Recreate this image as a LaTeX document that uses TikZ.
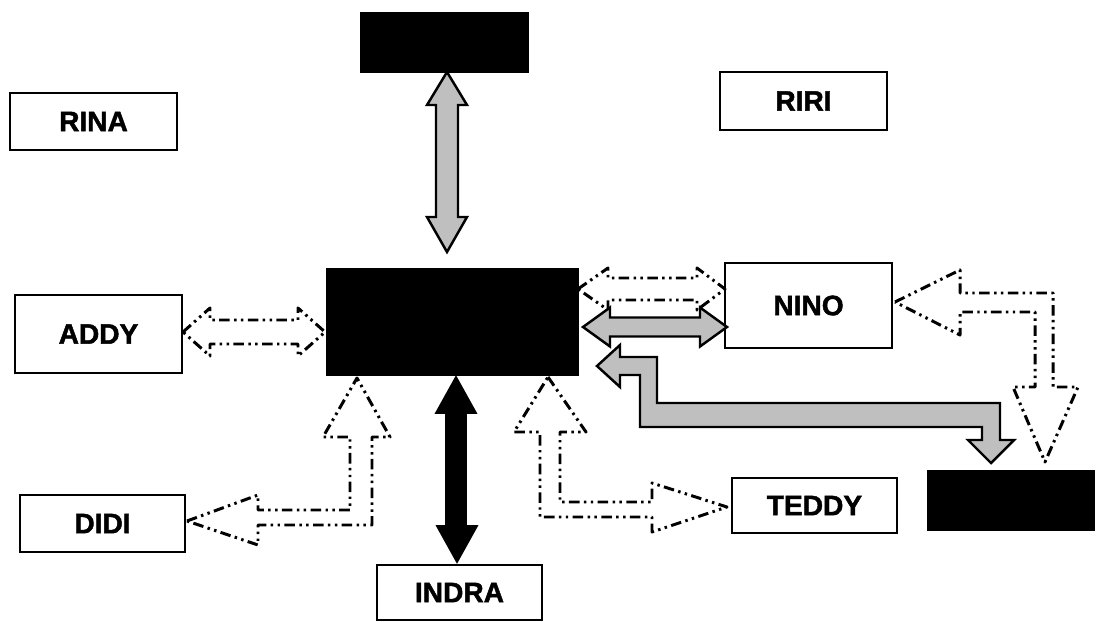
\documentclass[tikz,border=0pt]{standalone}
\usepackage{fontspec}
\setmainfont{Liberation Sans}[BoldFeatures={FakeBold=1.6}]
\begin{document}
\begin{tikzpicture}[x=0.02cm,y=-0.02cm,
  box/.style={draw=black,line width=0.9pt,fill=white,rectangle,inner sep=0pt,
    font=\fontsize{16}{18}\selectfont\bfseries},
  blackbox/.style={draw=black,fill=black,rectangle,inner sep=0pt},
  dasharrow/.style={draw=black,line width=1.7pt,line join=round,
    dash pattern=on 6pt off 2.5pt on 1.4pt off 2.5pt on 1.4pt off 2.5pt},
  grayarrow/.style={draw=black,line width=1.4pt,fill=gray!50,line join=miter},
  blackarrow/.style={draw=black,line width=1pt,fill=black}]
\useasboundingbox (0,0) rectangle (1096,622);
% nodes
\node[box,minimum width=3.34cm,minimum height=1.14cm] (rina) at (93.5,121.5) {RINA};
\node[box,minimum width=3.34cm,minimum height=1.16cm] (riri) at (803.5,101) {RIRI};
\node[box,minimum width=3.34cm,minimum height=1.56cm] (addy) at (98.5,334) {ADDY};
\node[box,minimum width=3.30cm,minimum height=1.14cm] (didi) at (102.5,523.5) {DIDI};
\node[box,minimum width=3.30cm,minimum height=1.10cm] (indra) at (459.5,592.5) {INDRA};
\node[box,minimum width=3.30cm,minimum height=1.10cm] (teddy) at (814.5,505.5) {TEDDY};
\node[box,minimum width=3.34cm,minimum height=1.70cm] (nino) at (808.5,305.5) {NINO};
\node[blackbox,minimum width=3.36cm,minimum height=1.20cm] (top) at (444,42) {};
\node[blackbox,minimum width=5.04cm,minimum height=2.14cm] (center) at (452,321.5) {};
\node[blackbox,minimum width=3.34cm,minimum height=1.20cm] (br) at (1010.5,500) {};
% top gray double arrow (top <-> center)
\draw[grayarrow] (447,72) -- (467,105) -- (458,105) -- (458,217) -- (467,217) -- (447,252)
  -- (427,217) -- (436,217) -- (436,105) -- (427,105) -- cycle;
% black double arrow (center <-> indra)
\draw[blackarrow] (456,377) -- (476,413) -- (466,413) -- (466,526) -- (477,526) -- (457,562)
  -- (437,526) -- (446,526) -- (446,413) -- (436,413) -- cycle;
% addy <-> center dashed
\draw[dasharrow] (183,332) -- (210,308) -- (210,320) -- (298,320) -- (298,308) -- (325,332)
  -- (298,356) -- (298,344) -- (210,344) -- (210,356) -- cycle;
% center <-> nino dashed
\draw[dasharrow] (578,289) -- (608,268) -- (608,278) -- (697,278) -- (697,268) -- (725,289)
  -- (697,310) -- (697,300) -- (608,300) -- (608,310) -- cycle;
% center <-> nino gray
\draw[grayarrow] (583,327) -- (610,307.5) -- (610,317.5) -- (700,317.5) -- (700,307.5) -- (727,327)
  -- (700,346.5) -- (700,336.5) -- (610,336.5) -- (610,346.5) -- cycle;
% L gray arrow center <-> br
\draw[grayarrow] (597,366) -- (620,345) -- (620,357) -- (657,357) -- (657,403) -- (1000,403)
  -- (1000,440) -- (1014,440) -- (991,463) -- (968,440) -- (982,440) -- (982,427)
  -- (640,427) -- (640,375) -- (620,375) -- (620,387) -- cycle;
% nino <-> br dashed L arrow
\draw[dasharrow] (895,302) -- (960,270) -- (960,293) -- (1053,293) -- (1053,387) -- (1078,387)
  -- (1045,462) -- (1013,387) -- (1035,387) -- (1035,312) -- (960,312) -- (960,335) -- cycle;
% didi <-> center dashed L arrow
\draw[dasharrow] (187,521) -- (258,495) -- (258,510) -- (350,510) -- (350,437) -- (323,437)
  -- (357,378) -- (390,437) -- (372,437) -- (372,525) -- (258,525) -- (258,545) -- cycle;
% teddy <-> center dashed L arrow
\draw[dasharrow] (548,377) -- (586,432) -- (560,432) -- (560,502) -- (652,502) -- (652,483)
  -- (727,507) -- (652,532) -- (652,517) -- (540,517) -- (540,432) -- (514,432) -- cycle;
\end{tikzpicture}
\end{document}
